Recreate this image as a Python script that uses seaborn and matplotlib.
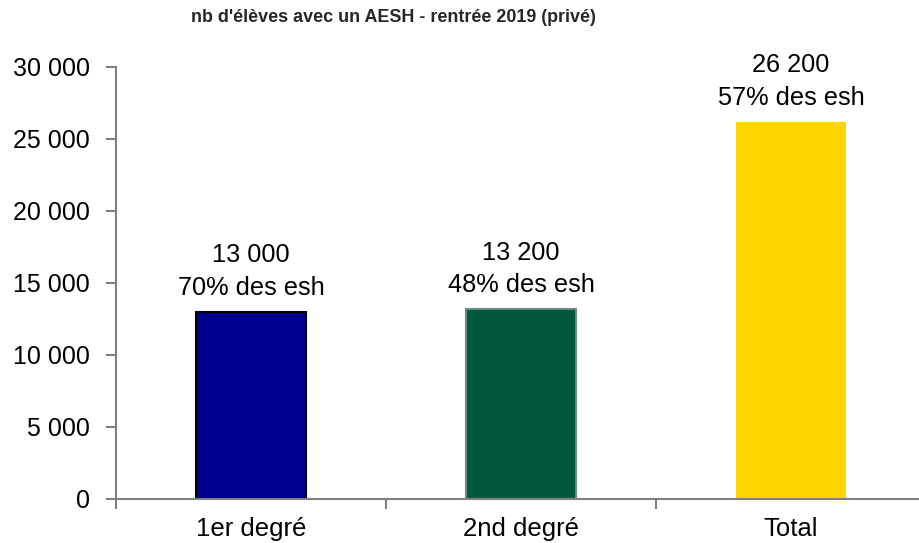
import numpy as np
import pandas as pd
import matplotlib
matplotlib.use("Agg")
import matplotlib.pyplot as plt
import seaborn as sns
from matplotlib.ticker import FuncFormatter, MultipleLocator, FixedLocator

categories = ["1er degré", "2nd degré", "Total"]
values = [13000, 13200, 26200]
shares = ["70% des esh", "48% des esh", "57% des esh"]
colors = ["#00008C", "#02583F", "#FFD400"]
edges = ["#000000", "#6E8A80", "none"]

sns.set_theme(style="white")
plt.rcParams["font.family"] = ["Liberation Sans", "DejaVu Sans"]

df = pd.DataFrame({"cat": categories, "val": values})

fig = plt.figure(figsize=(9.2, 5.43), dpi=100)
ax = fig.add_axes([116 / 920, 44 / 543, 1 - 116 / 920, 432 / 543])

sns.barplot(data=df, x="cat", y="val", hue="cat", palette=colors,
            legend=False, width=0.41, ax=ax, saturation=1)

for patch, ec in zip(ax.patches, edges):
    if ec == "none":
        patch.set_edgecolor("none")
    else:
        patch.set_edgecolor(ec)
        patch.set_linewidth(1.5)

def space_thousands(v, pos=None):
    return f"{int(v):,}".replace(",", " ")

# two lines of labels above each bar (offsets in points, dpi 100)
for i, (v, s) in enumerate(zip(values, shares)):
    ax.annotate(s, (i, v), xytext=(0, 12), textcoords="offset points",
                ha="center", va="baseline", fontsize=18.3, color="#000000")
    ax.annotate(space_thousands(v), (i, v), xytext=(0, 35.5), textcoords="offset points",
                ha="center", va="baseline", fontsize=18.3, color="#000000")

ax.set_ylim(0, 30000)
ax.set_xlim(-0.5, 2.478)
ax.yaxis.set_major_locator(MultipleLocator(5000))
ax.yaxis.set_major_formatter(FuncFormatter(space_thousands))

ax.set_xlabel("")
ax.set_ylabel("")
ax.xaxis.set_minor_locator(FixedLocator([-0.5, 0.5, 1.5]))
ax.tick_params(axis="x", which="major", length=0, pad=13, labelsize=18.5, colors="#000000")
ax.tick_params(axis="x", which="minor", length=7, width=1.5, color="#808080", direction="out", bottom=True)
ax.tick_params(axis="y", which="major", length=7, width=1.5, color="#808080", direction="out",
               left=True, pad=12, labelsize=18, labelcolor="#000000")

for side in ["top", "right"]:
    ax.spines[side].set_visible(False)
for side in ["left", "bottom"]:
    ax.spines[side].set_color("#808080")
    ax.spines[side].set_linewidth(1.5)

fig.text(393 / 920, 1 - 18 / 543,
         "nb d'élèves avec un AESH - rentrée 2019 (privé)",
         ha="center", va="center", fontsize=12.9, fontweight="bold")

fig.savefig("out.png", dpi=100)
